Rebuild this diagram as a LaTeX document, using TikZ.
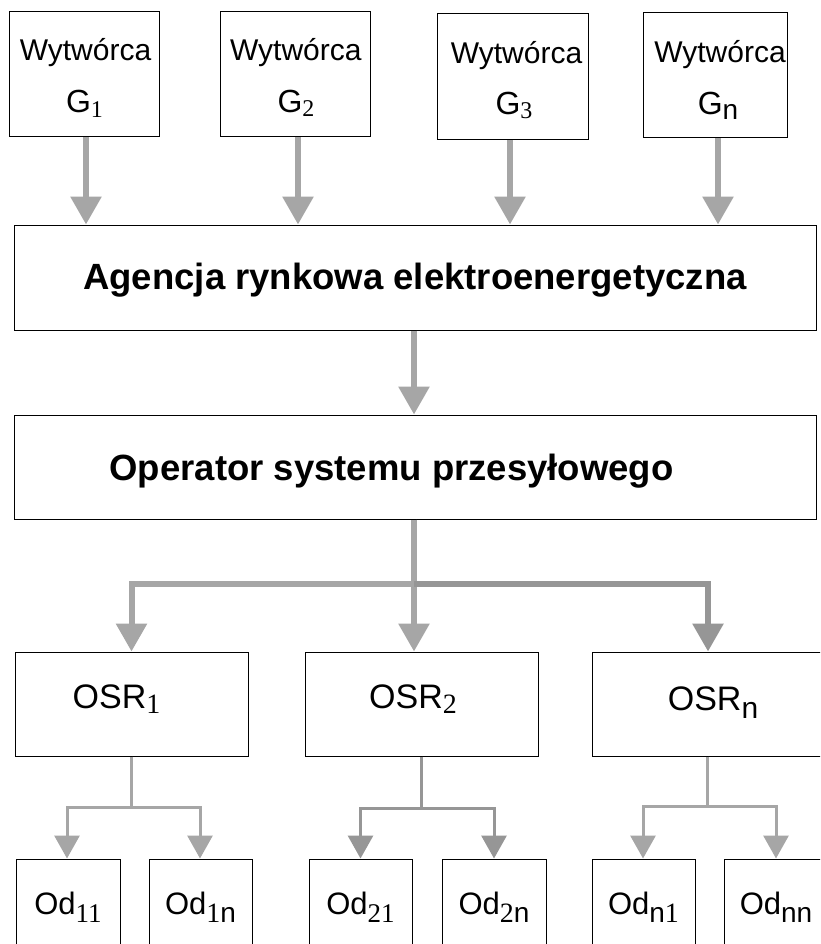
\documentclass[tikz,border=0pt]{standalone}
\usepackage{fontspec}
\setmainfont{Liberation Sans}
\newfontfamily\serifdig{Liberation Serif}
\usetikzlibrary{arrows.meta}
\definecolor{arrlight}{RGB}{166,166,166}
\definecolor{arrdark}{RGB}{150,150,150}
% subscript: size, drop, content
\newcommand{\mysub}[3]{\raisebox{-#2pt}{\fontsize{#1pt}{#1pt}\selectfont #3}}
\tikzset{
  box/.style={draw=black, line width=1pt, inner sep=0pt, fill=white},
  txtw/.style={inner sep=0pt, anchor=base, font=\fontsize{30pt}{30pt}\selectfont},
  txtg/.style={inner sep=0pt, anchor=base, font=\fontsize{32pt}{32pt}\selectfont},
  txtb/.style={inner sep=0pt, anchor=base, font=\fontsize{36.5pt}{36.5pt}\selectfont\bfseries},
  txtosr/.style={inner sep=0pt, anchor=base, font=\fontsize{34pt}{34pt}\selectfont},
  txtod/.style={inner sep=0pt, anchor=base, font=\fontsize{31pt}{31pt}\selectfont},
  bigarrow/.style={draw=arrlight, line width=6pt, -{Triangle[width=30pt,length=28pt]}},
  bigline/.style={draw=arrlight, line width=5.5pt},
  smallarrow/.style={draw=arrlight, line width=3pt, -{Triangle[width=25pt,length=23pt]}},
}
\begin{document}
\begin{tikzpicture}[x=1pt,y=-1pt]
\useasboundingbox (0,0) rectangle (820,944);
\clip (0,0) rectangle (820,944);
\fill[white] (0,0) rectangle (820,944);

% producer boxes
\node[box, minimum width=150pt, minimum height=125pt] (G1) at (84,74.5) {};
\node[box, minimum width=150pt, minimum height=125pt] (G2) at (295,74.5) {};
\node[box, minimum width=151pt, minimum height=126pt] (G3) at (512.5,77) {};
\node[box, minimum width=144pt, minimum height=125pt] (Gn) at (715,75.5) {};

\node[txtw] (tG1a) at (85.5,61) {Wytwórca};
\node[txtg] (tG1b) at (84.5,113) {G\mysub{24}{5}{\serifdig 1}};
\node[txtw] (tG2a) at (295.8,61) {Wytwórca};
\node[txtg] (tG2b) at (296,113) {G\mysub{24}{4}{\serifdig 2}};
\node[txtw] (tG3a) at (516.5,64) {Wytwórca};
\node[txtg] (tG3b) at (514,115) {G\mysub{24}{4}{\serifdig 3}};
\node[txtw] (tGna) at (720,63) {Wytwórca};
\node[txtg] (tGnb) at (718,115) {G\mysub{28}{5}{n}};

% agency and TSO
\node[box, minimum width=802pt, minimum height=105pt] (Ag) at (415,277.5) {};
\node[txtb] (tAg) at (415,289) {Agencja rynkowa elektroenergetyczna};
\node[box, minimum width=802pt, minimum height=104pt] (Op) at (415,467) {};
\node[txtb] (tOp) at (391.5,480) {Operator systemu przesyłowego};

% DSO boxes
\node[box, minimum width=233pt, minimum height=104pt] (OSR1) at (131.5,704) {};
\node[box, minimum width=233pt, minimum height=104pt] (OSR2) at (421.5,704) {};
\node[box, minimum width=232pt, minimum height=104pt] (OSRn) at (708,704) {};
\node[txtosr] (tOSR1) at (116.5,708) {OSR\mysub{28}{5}{\serifdig 1}};
\node[txtosr] (tOSR2) at (413,708) {OSR\mysub{28}{5}{\serifdig 2}};
\node[txtosr] (tOSRn) at (713,710) {OSR\mysub{30}{8}{n}};

% consumer boxes
\node[box, minimum width=104pt, minimum height=105pt] (Od11) at (68,911.5) {};
\node[box, minimum width=103pt, minimum height=105pt] (Od1n) at (200.5,911.5) {};
\node[box, minimum width=103pt, minimum height=105pt] (Od21) at (360.5,911.5) {};
\node[box, minimum width=104pt, minimum height=105pt] (Od2n) at (494,911.5) {};
\node[box, minimum width=103pt, minimum height=105pt] (Odn1) at (643.5,911.5) {};
\node[box, minimum width=104pt, minimum height=105pt] (Odnn) at (776,911.5) {};
\node[txtod] (tOd11) at (68,914) {Od\mysub{27}{8}{\serifdig 11}};
\node[txtod] (tOd1n) at (200.5,914) {Od\mysub{28}{8}{{\serifdig 1}n}};
\node[txtod] (tOd21) at (360.5,914) {Od\mysub{27}{8}{\serifdig 21}};
\node[txtod] (tOd2n) at (494,914) {Od\mysub{28}{8}{{\serifdig 2}n}};
\node[txtod] (tOdn1) at (643.5,914) {Od\mysub{28}{8}{n{\serifdig 1}}};
\node[txtod] (tOdnn) at (776,914) {Od\mysub{28}{8}{nn}};

% producer arrows
\draw[bigarrow] ([xshift=2pt]G1.south) -- ([xshift=2pt]G1.south |- Ag.north);
\draw[bigarrow] ([xshift=3pt]G2.south) -- ([xshift=3pt]G2.south |- Ag.north);
\draw[bigarrow] ([xshift=-2.5pt]G3.south) -- ([xshift=-2.5pt]G3.south |- Ag.north);
\draw[bigarrow] ([xshift=3pt]Gn.south) -- ([xshift=3pt]Gn.south |- Ag.north);

% agency to TSO
\draw[bigarrow] ([xshift=-1pt]Ag.south) -- ([xshift=-1pt]Op.north);

% TSO to DSOs
\coordinate (j) at ([xshift=-1pt]Op.south |- 0,584);
\draw[bigline] ([xshift=-1pt]Op.south) -- (j);
\draw[bigarrow, line join=miter] (j) -| (OSR1.north);
\draw[bigarrow] (j) -- (j |- OSR2.north);
\draw[bigarrow, draw=arrdark, line join=miter] (j) -| (OSRn.north);

% DSOs to consumers
\coordinate (b1) at (OSR1.south |- 0,807);
\coordinate (b2) at (OSR2.south |- 0,808);
\coordinate (b3) at ([xshift=-1pt]OSRn.south |- 0,806);
\draw[smallarrow] (OSR1.south) -- (b1) -| ([xshift=-1pt]Od11.north);
\draw[smallarrow] (b1) -| ([xshift=-0.5pt]Od1n.north);
\draw[smallarrow, draw=arrdark] (OSR2.south) -- (b2) -| (Od21.north);
\draw[smallarrow, draw=arrdark] (b2) -| (Od2n.north);
\draw[smallarrow] ([xshift=-1pt]OSRn.south) -- (b3) -| ([xshift=-0.5pt]Odn1.north);
\draw[smallarrow] (b3) -| (Odnn.north);
\end{tikzpicture}
\end{document}
